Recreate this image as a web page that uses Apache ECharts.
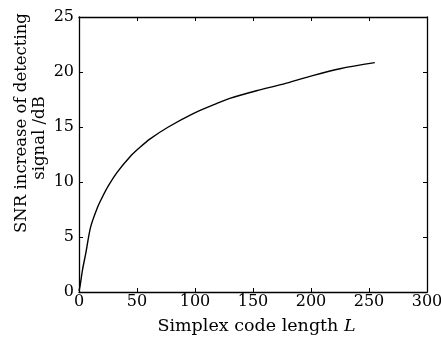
<!DOCTYPE html>
<html>
<head>
<meta charset="utf-8">
<script src="https://cdn.jsdelivr.net/npm/echarts@6/dist/echarts.min.js"></script>
<style>html,body{margin:0;padding:0;background:#fff}#c{width:441px;height:337px}</style>
</head>
<body>
<div id="c"></div>
<script>
var codeLength = [0, 1, 3, 6, 10, 16, 20, 25, 33, 44, 52, 61, 77, 98, 118, 130, 153, 176, 199, 225, 255];
var snrGain = [0.1, 0.6, 2.0, 3.6, 5.9, 7.7, 8.6, 9.6, 10.9, 12.3, 13.1, 13.9, 15.0, 16.2, 17.1, 17.6, 18.3, 18.9, 19.6, 20.3, 20.85];
var xTicks = [0, 50, 100, 150, 200, 250, 300];
var yTicks = [0, 5, 10, 15, 20, 25];
var yTitle = ['SNR increase of detecting', 'signal /dB'];
var xTitle = 'Simplex code length ';
var xTitleVar = 'L';

var font = 'DejaVu Serif';
var chart = echarts.init(document.getElementById('c'), null, {renderer: 'canvas'});
var pts = codeLength.map(function (l, i) { return [l, snrGain[i]]; });
function line() { return {show: true, onZero: false, lineStyle: {color: '#000', width: 1.3}}; }
function tick() { return {show: true, inside: true, length: 4, lineStyle: {color: '#000', width: 1}}; }
chart.setOption({
  backgroundColor: '#fff',
  animation: false,
  grid: {left: 79, right: 14, top: 17, bottom: 45, containLabel: false, outerBoundsMode: 'none'},
  xAxis: [{
    type: 'value', position: 'bottom', min: xTicks[0], max: xTicks[xTicks.length - 1], interval: 50,
    axisLine: line(), axisTick: tick(), splitLine: {show: false},
    axisLabel: {color: '#000', fontFamily: font, fontSize: 16, margin: 2}
  }, {
    type: 'value', position: 'top', min: xTicks[0], max: xTicks[xTicks.length - 1], interval: 50,
    axisLine: line(), axisTick: tick(), axisLabel: {show: false}, splitLine: {show: false}
  }],
  yAxis: [{
    type: 'value', position: 'left', min: yTicks[0], max: yTicks[yTicks.length - 1], interval: 5,
    axisLine: line(), axisTick: tick(), splitLine: {show: false},
    axisLabel: {color: '#000', fontFamily: font, fontSize: 16, margin: 5}
  }, {
    type: 'value', position: 'right', min: yTicks[0], max: yTicks[yTicks.length - 1], interval: 5,
    axisLine: line(), axisTick: tick(), axisLabel: {show: false}, splitLine: {show: false}
  }],
  graphic: [
    {type: 'text', x: 21.5, y: 123, rotation: Math.PI / 2,
     style: {text: yTitle[0], font: '16.5px "' + font + '"', fill: '#000', align: 'center', verticalAlign: 'middle'}},
    {type: 'text', x: 40, y: 138, rotation: Math.PI / 2,
     style: {text: yTitle[1], font: '16.5px "' + font + '"', fill: '#000', align: 'center', verticalAlign: 'middle'}},
    {type: 'text', x: 256.5, y: 326,
     style: {text: '{n|' + xTitle + '}{i|' + xTitleVar + '}', align: 'center', verticalAlign: 'middle',
       rich: {n: {font: '17.5px "' + font + '"', fill: '#000'},
              i: {font: 'italic 17.5px "' + font + '"', fill: '#000'}}}}
  ],
  series: [{
    type: 'line', xAxisIndex: 0, yAxisIndex: 0, data: pts, smooth: 0.3, showSymbol: false,
    lineStyle: {color: '#000', width: 1.4}
  }]
});
</script>
</body>
</html>
